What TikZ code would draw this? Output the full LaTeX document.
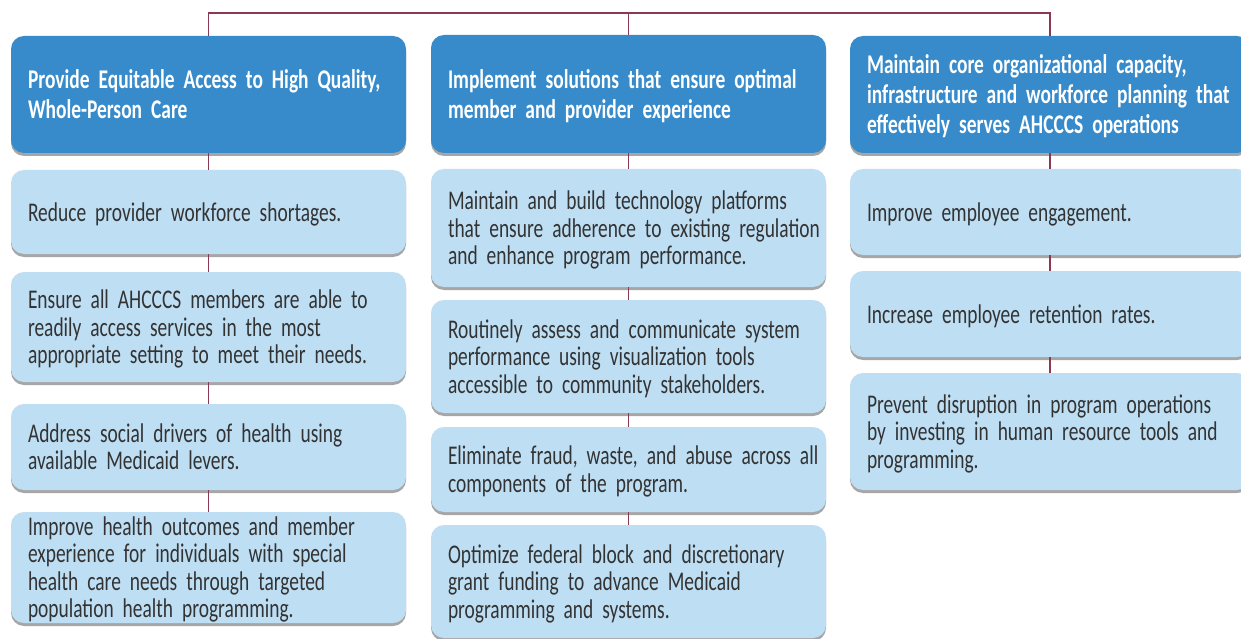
\documentclass[tikz,border=0pt]{standalone}
\usepackage{fontspec}
\setmainfont[FakeStretch=0.72]{Carlito}
\usetikzlibrary{shadows}
\definecolor{hdrblue}{HTML}{378BCB}
\definecolor{lightblue}{HTML}{BEDEF3}
\definecolor{linkred}{HTML}{8A3A50}
\definecolor{bodytext}{HTML}{333333}
\newcommand{\cardlines}[1]{\raisebox{-3.5pt}[\height][\depth]{\begin{tabular}{@{}l@{}}#1\end{tabular}}}
\newcommand{\hdrfont}{\bfseries\fontsize{27}{30}\selectfont\spaceskip=3.9pt\relax\xspaceskip=3.9pt\relax}
\newcommand{\itemfont}{\fontsize{27}{27.5}\selectfont\spaceskip=3.8pt\relax\xspaceskip=3.8pt\relax}
\begin{document}
\begin{tikzpicture}[x=1pt,y=-1pt,
  card/.style={rounded corners=13pt, inner xsep=17pt, inner ysep=0pt, align=left, anchor=center,
    drop shadow={shadow xshift=0pt, shadow yshift=-3pt, opacity=0.35, fill=black}},
  hdr/.style={card, fill=hdrblue, text=white, font=\hdrfont},
  item/.style={card, fill=lightblue, text=bodytext, font=\itemfont},
  colA/.style={minimum width=395pt, text width=361pt},
  colC/.style={minimum width=400pt, text width=366pt},
  link/.style={draw=linkred, line width=1.8pt}]
\fill[white] (0,0) rectangle (1241,639);
\useasboundingbox (0,0) rectangle (1241,639);
% column 1
\node[hdr, colA, minimum height=117pt] (h1) at (208.5,94.5) {\cardlines{Provide Equitable Access to High Quality,\\Whole-Person Care}};
\node[item, colA, minimum height=84pt] (a1) at (208.5,212) {\cardlines{Reduce provider workforce shortages.}};
\node[item, colA, minimum height=110pt] (a2) at (208.5,327) {\cardlines{Ensure all AHCCCS members are able to\\readily access services in the most\\appropriate setting to meet their needs.}};
\node[item, colA, minimum height=86pt] (a3) at (208.5,447) {\cardlines{Address social drivers of health using\\available Medicaid levers.}};
\node[item, colA, minimum height=111pt] (a4) at (208.5,567.5) {\cardlines{Improve health outcomes and member\\experience for individuals with special\\health care needs through targeted\\population health programming.}};
% column 2
\node[hdr, colA, minimum height=118pt] (h2) at (628.5,94) {\cardlines{Implement solutions that ensure optimal\\member and provider experience}};
\node[item, colA, minimum height=118pt] (b1) at (628.5,228) {\cardlines{Maintain and build technology platforms\\that ensure adherence to existing regulation\\and enhance program performance.}};
\node[item, colA, minimum height=113pt] (b2) at (628.5,356.5) {\cardlines{Routinely assess and communicate system\\performance using visualization tools\\accessible to community stakeholders.}};
\node[item, colA, minimum height=85pt] (b3) at (628.5,469.5) {\cardlines{Eliminate fraud, waste, and abuse across all\\components of the program.}};
\node[item, colA, minimum height=113pt] (b4) at (628.5,581.5) {\cardlines{Optimize federal block and discretionary\\grant funding to advance Medicaid\\programming and systems.}};
% column 3
\node[hdr, colC, minimum height=117pt] (h3) at (1050,94.5) {\cardlines{Maintain core organizational capacity,\\infrastructure and workforce planning that\\effectively serves AHCCCS operations}};
\node[item, colC, minimum height=86pt] (c1) at (1050,212) {\cardlines{Improve employee engagement.}};
\node[item, colC, minimum height=86pt] (c2) at (1050,314) {\cardlines{Increase employee retention rates.}};
\node[item, colC, minimum height=117pt] (c3) at (1050,431.5) {\cardlines{Prevent disruption in program operations\\by investing in human resource tools and\\programming.}};
% connectors
\coordinate (bar) at (628.5,13);
\draw[link] (h1.north) |- (bar) -| (h3.north);
\draw[link] (h2.north) -- (bar);
\draw[link] (h1.south) -- (a1.north);
\draw[link] (a1.south) -- (a2.north);
\draw[link] (a2.south) -- (a3.north);
\draw[link] (a3.south) -- (a4.north);
\draw[link] (h2.south) -- (b1.north);
\draw[link] (b1.south) -- (b2.north);
\draw[link] (b2.south) -- (b3.north);
\draw[link] (b3.south) -- (b4.north);
\draw[link] (h3.south) -- (c1.north);
\draw[link] (c1.south) -- (c2.north);
\draw[link] (c2.south) -- (c3.north);
\end{tikzpicture}
\end{document}
